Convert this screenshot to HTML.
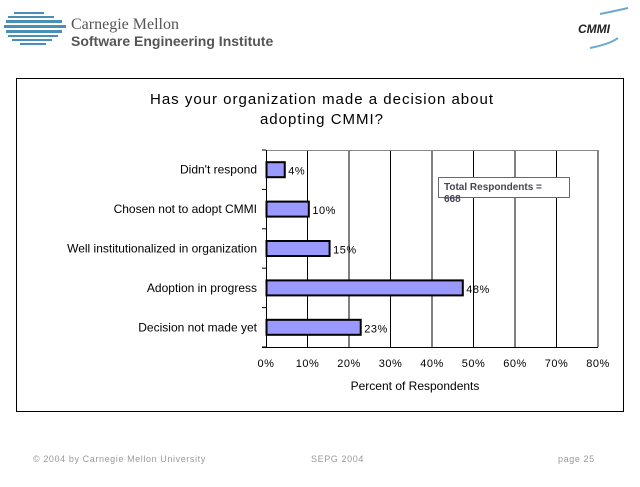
<!DOCTYPE html>
<html><head><meta charset="utf-8"><style>
html,body{margin:0;padding:0;background:#fff;}
body{width:640px;height:482px;position:relative;overflow:hidden;font-family:"Liberation Sans",sans-serif;}
</style></head><body>
<svg width="640" height="482" viewBox="0 0 640 482" xmlns="http://www.w3.org/2000/svg" font-family="Liberation Sans, sans-serif">
<g>
  <g fill="#4a8fb5">
    <rect x="14" y="12" width="30" height="2"/><rect x="8" y="16" width="46" height="2"/>
    <rect x="6" y="20" width="56" height="3"/><rect x="4" y="25" width="62" height="3"/>
    <rect x="6" y="30" width="56" height="3"/><rect x="8" y="35" width="50" height="2"/>
    <rect x="12" y="39" width="40" height="2"/><rect x="20" y="43" width="26" height="2"/>
  </g>
  <text x="71" y="29" font-family="Liberation Serif, serif" font-size="16" fill="#555">Carnegie Mellon</text>
  <text x="71" y="46" font-size="14" font-weight="bold" fill="#555">Software Engineering Institute</text>
</g>
<g>
  <path d="M600 14 Q620 10 628 8" stroke="#6aa9c9" stroke-width="2" fill="none"/>
  <text x="578" y="33" font-size="12" font-weight="bold" font-style="italic" fill="#222">CMMI</text>
  <path d="M590 48 Q610 44 618 38" stroke="#6aa9c9" stroke-width="2" fill="none"/>
</g>
<rect x="16.5" y="78.5" width="607" height="333" fill="#fff" stroke="#000" stroke-width="1"/>
<text x="322" y="104" font-size="15" letter-spacing="1" text-anchor="middle">Has your organization made a decision about</text>
<text x="322" y="124" font-size="15" letter-spacing="1" text-anchor="middle">adopting CMMI?</text>
<g id="plot"></g>
<g>
  <rect x="438.5" y="177.5" width="131" height="20" fill="#fff" stroke="#667"/>
  <text x="444" y="190" font-size="10" font-weight="bold" fill="#445">Total Respondents =</text>
  <text x="444" y="202" font-size="10" font-weight="bold" fill="#445">668</text>
</g>
<text x="415" y="390" font-size="12" text-anchor="middle">Percent of Respondents</text>
<g font-size="9" fill="#999" letter-spacing="0.6">
<text x="33" y="462">© 2004 by Carnegie Mellon University</text>
<text x="311" y="462">SEPG 2004</text>
<text x="558" y="462">page 25</text>
</g>
</svg>
<script>
const categories=["Didn't respond","Chosen not to adopt CMMI","Well institutionalized in organization","Adoption in progress","Decision not made yet"];
const values=[4.4,10.2,15.2,47.3,22.7];
const valueLabels=["4%","10%","15%","48%","23%"];
const tickValues=[0,10,20,30,40,50,60,70,80];
const tickLabels=["0%","10%","20%","30%","40%","50%","60%","70%","80%"];
const NS="http://www.w3.org/2000/svg";
const g=document.getElementById('plot');
const X0=266,X1=598,Y0=150,Y1=347;
const xs=v=>X0+(v/80)*(X1-X0);
const band=(Y1-Y0)/categories.length;
function mk(t,a){const e=document.createElementNS(NS,t);for(const k in a)e.setAttribute(k,a[k]);g.appendChild(e);return e;}
tickValues.forEach((v,i)=>{
  if(i>0){const l=mk('line',{x1:xs(v),x2:xs(v),y1:Y0,y2:Y1,stroke:'#000','stroke-width':1});
  
  }
  const t=mk('text',{x:xs(v),y:Y1+20,'font-size':11,'letter-spacing':0.5,'text-anchor':'middle'});t.textContent=tickLabels[i];
  
  
});
const fr=mk('line',{x1:X0,x2:X1,y1:Y0+0.5,y2:Y0+0.5,stroke:'#888'});


const fr2=mk('line',{x1:X1+0.5,x2:X1+0.5,y1:Y0,y2:Y1,stroke:'#888'});


const ax=mk('line',{x1:X0+0.5,x2:X0+0.5,y1:Y0,y2:Y1,stroke:'#000'});


const bx=mk('line',{x1:X0-4,x2:X1,y1:Y1+0.5,y2:Y1+0.5,stroke:'#000'});


for(let i=0;i<=categories.length;i++){const tk=mk('line',{x1:X0-4,x2:X0,y1:Y0+i*band,y2:Y0+i*band,stroke:'#000'});

}
categories.forEach((c,i)=>{
  const cy=Y0+band*(i+0.5);
  const r=mk('rect',{x:X0+0.5,y:cy-7.5,width:xs(values[i])-X0,height:15,fill:'#9999ff',stroke:'#000','stroke-width':2});
  
  
  const l=mk('text',{x:xs(values[i])+4,y:cy+5,'font-size':11,'letter-spacing':0.5});l.textContent=valueLabels[i];
  
  
  const cl=mk('text',{x:X0-9,y:cy+4,'font-size':12,'text-anchor':'end'});cl.textContent=c;
  
  
});
</script>
</body></html>
